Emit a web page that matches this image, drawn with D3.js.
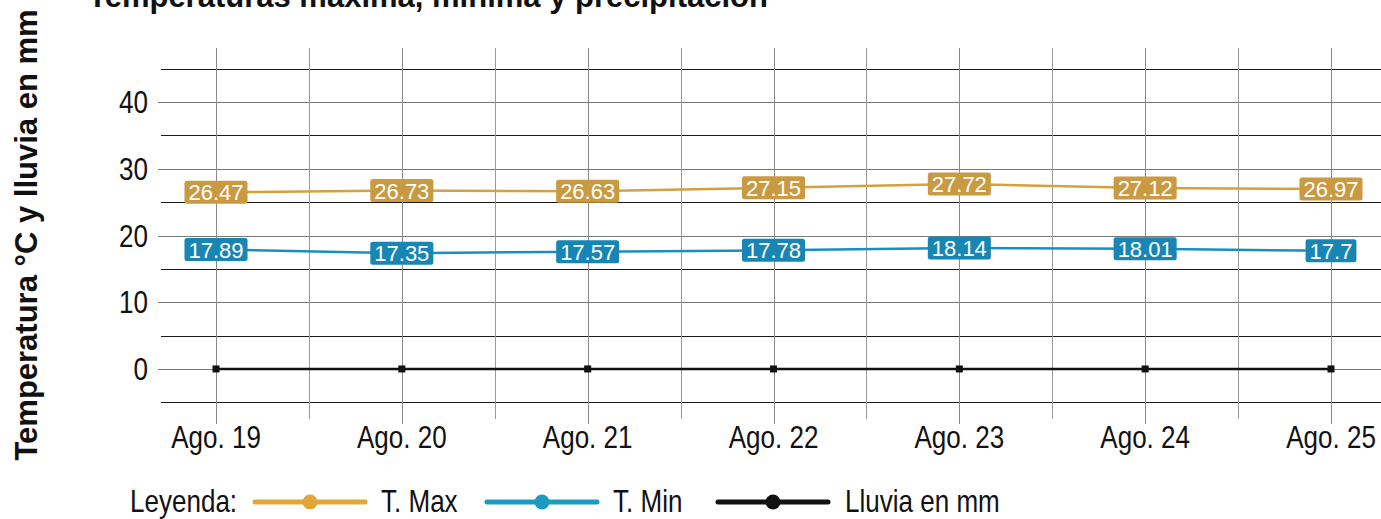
<!DOCTYPE html>
<html><head><meta charset="utf-8">
<script src="https://cdn.jsdelivr.net/npm/d3@7"></script>
<style>
html,body{margin:0;padding:0;background:#fff;overflow:hidden}
</style></head>
<body>
<svg id="chart" width="1381" height="519"></svg>
<script>
const categories = ["Ago. 19","Ago. 20","Ago. 21","Ago. 22","Ago. 23","Ago. 24","Ago. 25"];
const tmax = [26.47, 26.73, 26.63, 27.15, 27.72, 27.12, 26.97];
const tmin = [17.89, 17.35, 17.57, 17.78, 18.14, 18.01, 17.7];
const lluvia = [0, 0, 0, 0, 0, 0, 0];
const yTicks = [0, 10, 20, 30, 40];
const yMinor = [-5, 5, 15, 25, 35, 45];
const legendLabels = ["T. Max", "T. Min", "Lluvia en mm"];

const W = 1381, H = 519;
const panel = {left: 161, right: 1386, top: 48, bottom: 419};
const svg = d3.select("#chart");
const sans = "'Liberation Sans',Arial,sans-serif";
const SQ = 0.84; // horizontal compression to imitate a narrow face

function narrowText(parent, xx, yy, txt, anchor) {
  const gg = parent.append("g").attr("transform", `translate(${xx},${yy}) scale(${SQ},1)`);
  gg.append("text").attr("x", 0).attr("y", 0).attr("text-anchor", anchor || "start")
    .attr("font-family", sans).attr("font-size", 31).attr("fill", "#111").text(txt);
  return gg;
}

const x = d3.scalePoint().domain(categories).range([panel.left, panel.right]).padding(0.296);
const y = d3.scaleLinear().domain([-7.5, 48.1]).range([panel.bottom, panel.top]);

const g = svg.append("g");
// minor horizontal lines
g.selectAll("line.hmin").data(yMinor).join("line")
  .attr("x1", panel.left).attr("x2", W)
  .attr("y1", d => Math.round(y(d)) + 0.5).attr("y2", d => Math.round(y(d)) + 0.5)
  .attr("stroke", "#1a1a1a").attr("stroke-width", 1);
// major horizontal lines
g.selectAll("line.hmaj").data(yTicks).join("line")
  .attr("x1", panel.left - 3).attr("x2", W)
  .attr("y1", d => Math.round(y(d)) + 0.5).attr("y2", d => Math.round(y(d)) + 0.5)
  .attr("stroke", "#7a7a7a").attr("stroke-width", 1);
// vertical major
g.selectAll("line.vmaj").data(categories).join("line")
  .attr("x1", d => Math.round(x(d)) + 0.5).attr("x2", d => Math.round(x(d)) + 0.5)
  .attr("y1", panel.top).attr("y2", panel.bottom + 5)
  .attr("stroke", "#8a8a8a").attr("stroke-width", 1);
// vertical minor
const mids = categories.slice(0, -1).map((c, i) => (x(c) + x(categories[i + 1])) / 2);
g.selectAll("line.vmin").data(mids).join("line")
  .attr("x1", d => Math.round(d) + 0.5).attr("x2", d => Math.round(d) + 0.5)
  .attr("y1", panel.top).attr("y2", panel.bottom)
  .attr("stroke", "#9a9a9a").attr("stroke-width", 1);

// y tick labels
yTicks.forEach(d => narrowText(g, 148, y(d) + 11, String(d), "end"));
// x tick labels
categories.forEach(d => narrowText(g, x(d), 448, d, "middle"));

// title
svg.append("text").attr("x", 88).attr("y", 7)
  .attr("font-family", sans).attr("font-weight", "bold").attr("font-size", 31)
  .attr("fill", "#111").text("Temperaturas máxima, mínima y precipitación");
// y axis title
svg.append("text").attr("transform", "translate(37,235) rotate(-90)")
  .attr("text-anchor", "middle").attr("font-family", sans).attr("font-weight", "bold")
  .attr("font-size", 31).attr("fill", "#111").text("Temperatura °C y lluvia en mm");

const line = d3.line().x((d, i) => x(categories[i])).y(d => y(d));
// lluvia
g.append("path").datum(lluvia).attr("d", line).attr("fill", "none")
  .attr("stroke", "#111").attr("stroke-width", 2.5);
g.selectAll("rect.ll").data(lluvia).join("rect")
  .attr("x", (d, i) => x(categories[i]) - 3.5).attr("y", d => y(d) - 3.5)
  .attr("width", 7).attr("height", 7).attr("fill", "#111");

const series = [
  {vals: tmax, line: "#d4a13f", box: "#c99a42"},
  {vals: tmin, line: "#1a8fbd", box: "#1886b4"}
];
series.forEach(s => {
  g.append("path").datum(s.vals).attr("d", line).attr("fill", "none")
    .attr("stroke", s.line).attr("stroke-width", 2.5);
});
series.forEach(s => {
  const lg = g.append("g");
  s.vals.forEach((v, i) => {
    const cx = x(categories[i]), cy = y(v);
    const t = lg.append("text").attr("x", cx).attr("y", cy + 8)
      .attr("text-anchor", "middle").attr("font-family", sans).attr("font-size", 22)
      .attr("fill", "#fff").text(v);
    const bb = t.node().getBBox();
    lg.insert("rect", () => t.node())
      .attr("x", cx - bb.width / 2 - 4).attr("y", cy - 11.5)
      .attr("width", bb.width + 8).attr("height", 23)
      .attr("rx", 2.5).attr("fill", s.box);
  });
});

// legend
const leg = svg.append("g");
narrowText(leg, 130, 512, "Leyenda:", "start");
const legItems = [
  {label: legendLabels[0], color: "#e0a63a", x0: 255, tx: 381},
  {label: legendLabels[1], color: "#1b9bc1", x0: 487, tx: 613},
  {label: legendLabels[2], color: "#111111", x0: 718, tx: 845}
];
legItems.forEach(it => {
  leg.append("line").attr("x1", it.x0).attr("x2", it.x0 + 110).attr("y1", 502).attr("y2", 502)
    .attr("stroke", it.color).attr("stroke-width", 5).attr("stroke-linecap", "round");
  leg.append("circle").attr("cx", it.x0 + 55).attr("cy", 502).attr("r", 7.5).attr("fill", it.color);
  narrowText(leg, it.tx, 512, it.label, "start");
});
</script>
</body></html>
